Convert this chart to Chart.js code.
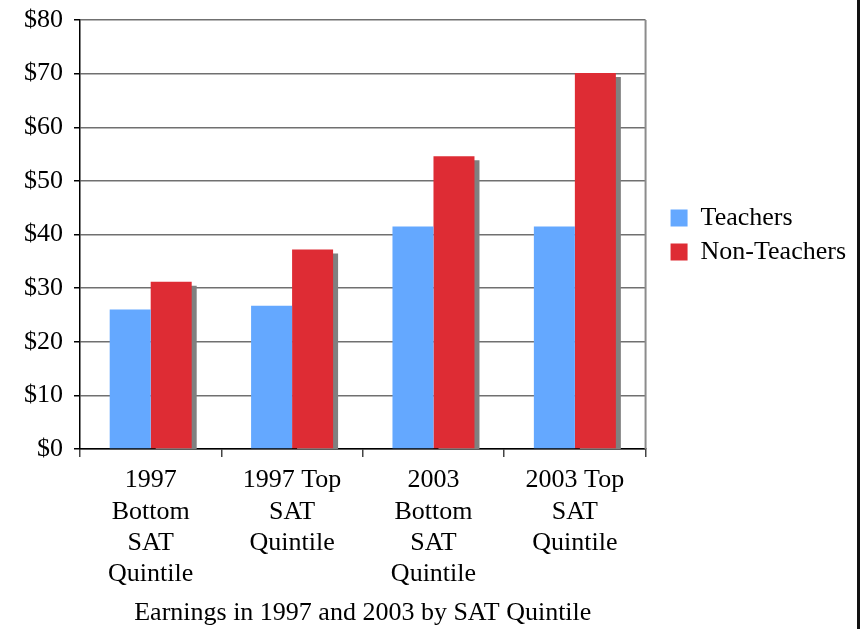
<!DOCTYPE html>
<html>
<head>
<meta charset="utf-8">
<script src="https://cdn.jsdelivr.net/npm/chart.js@4"></script>
<style>
  html, body { margin: 0; padding: 0; background: #fff; }
  #wrap { position: relative; width: 863px; height: 629px; }
</style>
</head>
<body>
<div id="wrap"><canvas id="c" width="863" height="629"></canvas></div>
<script>
const categories = [
  ["1997", "Bottom", "SAT", "Quintile"],
  ["1997 Top", "SAT", "Quintile"],
  ["2003", "Bottom", "SAT", "Quintile"],
  ["2003 Top", "SAT", "Quintile"]
];
const teachers = [26.0, 26.7, 41.5, 41.5];
const nonTeachers = [31.2, 37.2, 54.6, 70.1];
const seriesNames = ["Teachers", "Non-Teachers"];
const xTitle = "Earnings in 1997 and 2003 by SAT Quintile";

const FONT = "'Liberation Serif', 'Times New Roman', serif";

const shadowPlugin = {
  id: 'barShadow',
  beforeDatasetDraw(chart, args) {
    const ctx = chart.ctx;
    ctx.save();
    if (args.index === 1) {
      ctx.shadowColor = '#808080';
      ctx.shadowOffsetX = 5;
      ctx.shadowOffsetY = 4;
      ctx.shadowBlur = 0;
    }
  },
  afterDatasetDraw(chart) {
    chart.ctx.restore();
  }
};

const framePlugin = {
  id: 'frame',
  afterDraw(chart) {
    const { ctx, chartArea } = chart;
    ctx.save();
    ctx.strokeStyle = '#8c8c8c';
    ctx.lineWidth = 2;
    ctx.beginPath();
    ctx.moveTo(chartArea.right, chartArea.top);
    ctx.lineTo(chartArea.right, chartArea.bottom);
    ctx.stroke();
    ctx.strokeStyle = '#111';
    ctx.lineWidth = 3;
    ctx.beginPath();
    ctx.moveTo(chart.width - 4.5, 0);
    ctx.lineTo(chart.width - 4.5, chart.height);
    ctx.stroke();
    ctx.restore();
  }
};

new Chart(document.getElementById('c'), {
  type: 'bar',
  data: {
    labels: categories,
    datasets: [
      { label: seriesNames[0], data: teachers, backgroundColor: '#64a8ff', borderWidth: 0 },
      { label: seriesNames[1], data: nonTeachers, backgroundColor: '#de2c34', borderWidth: 0 }
    ]
  },
  options: {
    responsive: false,
    animation: false,
    events: [],
    layout: { padding: { left: 13, right: 7, top: 0, bottom: 0 } },
    datasets: { bar: { categoryPercentage: 0.58, barPercentage: 1.0 } },
    plugins: {
      legend: {
        position: 'right',
        align: 'start',
        maxWidth: 400,
        title: {
          display: true,
          text: ' ',
          font: { family: FONT, size: 10, lineHeight: 1.2 },
          padding: { top: 185, bottom: 0 }
        },
        labels: {
          font: { family: FONT, size: 26 },
          color: '#000',
          boxWidth: 17,
          boxHeight: 17,
          padding: 8
        }
      },
      tooltip: { enabled: false },
      title: { display: false }
    },
    scales: {
      x: {
        grid: {
          offset: true,
          drawOnChartArea: false,
          drawTicks: true,
          tickLength: 8,
          tickColor: '#444',
          lineWidth: 1.5
        },
        border: { color: '#000', width: 1.5 },
        ticks: {
          color: '#000',
          font: { family: FONT, size: 26, lineHeight: 1.2 },
          padding: 8,
          maxRotation: 0,
          autoSkip: false
        },
        title: {
          display: true,
          text: xTitle,
          color: '#000',
          font: { family: FONT, size: 26, lineHeight: 1.2 },
          padding: { top: 0, bottom: 0 }
        }
      },
      y: {
        min: 0,
        max: 80,
        ticks: {
          stepSize: 10,
          color: '#000',
          font: { family: FONT, size: 26 },
          padding: 11,
          callback: v => '$' + v
        },
        grid: {
          color: '#707070',
          lineWidth: 1.5,
          tickLength: 6,
          tickColor: '#000'
        },
        border: { color: '#000', width: 1.5 },
        afterFit(scale) {
          scale.paddingTop = 20;
        }
      },
      gap: {
        type: 'linear',
        position: 'right',
        display: true,
        grid: { display: false, drawTicks: false },
        ticks: { display: false },
        border: { display: false },
        afterFit(scale) {
          scale.width = 17;
          scale.paddingTop = 0;
          scale.paddingBottom = 0;
        }
      }
    }
  },
  plugins: [shadowPlugin, framePlugin]
});
</script>
</body>
</html>
